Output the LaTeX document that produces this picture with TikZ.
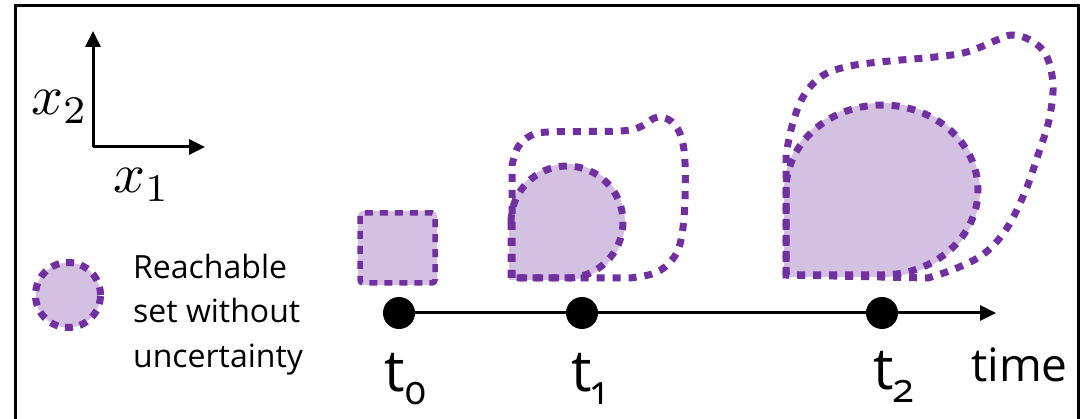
\documentclass[tikz,border=0pt]{standalone}
\usepackage{graphicx}
\usepackage{fontspec}
\setmainfont{Open Sans}
\usetikzlibrary{arrows.meta}
\definecolor{rpurple}{HTML}{7030A0}
\definecolor{rfill}{HTML}{D4C1E2}
\tikzset{
  frameline/.style={line width=3pt, black},
  dotline/.style={draw=rpurple, line width=7pt, dash pattern=on 8pt off 8pt},
  dotlinesmall/.style={draw=rpurple, line width=5.5pt, dash pattern=on 8pt off 7pt},
  regionfill/.style={fill=rfill, draw=rfill, line width=4pt},
  axisarrow/.style={line width=3pt, -{Triangle[length=16pt,width=15pt]}},
  timedot/.style={circle, fill=black, minimum size=32pt, inner sep=0pt},
  txt/.style={inner sep=0pt, anchor=base west},
}
\newcommand{\subtxt}[1]{\raisebox{-13pt}{\fontsize{40}{40}\selectfont\addfontfeatures{Numbers=OldStyle}#1}}
\begin{document}
\begin{tikzpicture}[x=1pt,y=-1pt]
\useasboundingbox (0,0) rectangle (1082,419);
% frame
\draw[frameline] (15,421) -- (15,6) -- (1078,6) -- (1078,421);
% axes
\coordinate (o) at (93,147);
\coordinate (ay) at (93,31);
\coordinate (ax) at (205,147);
\draw[axisarrow] (o) -- (ay);
\draw[axisarrow] (o) -- (ax);
\node[txt] (lx2) at (31,115) {\scalebox{5.6}{$x_2$}};
\node[txt] (lx1) at (113,193) {\scalebox{5.6}{$x_1$}};
% legend
\node[circle, minimum size=65pt, inner sep=0pt, fill=rfill, dotline, dash pattern=on 8pt off 7pt] (leg) at (68,295) {};
\node[txt, font=\fontsize{32}{38}\selectfont] (leg1) at (133,279) {Reachable};
\node[txt, font=\fontsize{32}{38}\selectfont] (leg2) at (133,323) {set without};
\node[txt, font=\fontsize{32}{38}\selectfont] (leg3) at (133,368) {uncertainty};
% t0 set
\filldraw[regionfill, rounded corners=3pt] (360,213) rectangle (435,283);
\draw[dotlinesmall, rounded corners=3pt] (360,213) rectangle (435,283);
% t1 sets
\filldraw[regionfill] (511,222) -- (511,278) -- (567,278) arc[start angle=90, end angle=-180, radius=56] -- cycle;
\draw[dotline] (511,222) -- (511,278) -- (567,278) arc[start angle=90, end angle=-180, radius=56] -- cycle;
\draw[dotline] (512,278) -- (512,165) -- plot[smooth, tension=0.6] coordinates {(512,165) (518,147) (530,136) (548,132) (620,131) (640,127) (658,117) (675,125) (684,150) (685,200) (681,240) (672,260) (655,273) (630,278)} -- cycle;
% t2 sets
\filldraw[regionfill] (786,190) -- (786,275) -- (882,275) arc[start angle=90, end angle=-180, x radius=96, y radius=85] -- cycle;
\draw[dotline] (786,190) -- (786,275) -- (882,275) arc[start angle=90, end angle=-180, x radius=96, y radius=85] -- cycle;
\draw[dotline] (786,275) -- (786,155) -- plot[smooth, tension=0.6] coordinates {(786,155) (792,126) (803,97) (822,76) (850,66) (890,61) (935,57) (967,52) (997,40) (1012,35) (1030,40) (1046,55) (1053,85) (1049,120) (1038,155) (1025,192) (1007,228) (985,253) (957,268) (928,278)} -- cycle;
% time axis
\node[timedot] (t0) at (399,313) {};
\node[timedot] (t1) at (582,313) {};
\node[timedot] (t2) at (882,313) {};
\coordinate (tend) at (996,313);
\draw[axisarrow] (t0.center) -- (tend);
\node[txt, font=\fontsize{58}{60}\selectfont] (lt0) at (384,392) {t\subtxt{0}};
\node[txt, font=\fontsize{58}{60}\selectfont] (lt1) at (571,392) {t\subtxt{1}};
\node[txt, font=\fontsize{58}{60}\selectfont] (lt2) at (873,390) {t\subtxt{2}};
\node[txt, font=\fontsize{46}{50}\selectfont] (ltime) at (971,382) {time};
\end{tikzpicture}
\end{document}
